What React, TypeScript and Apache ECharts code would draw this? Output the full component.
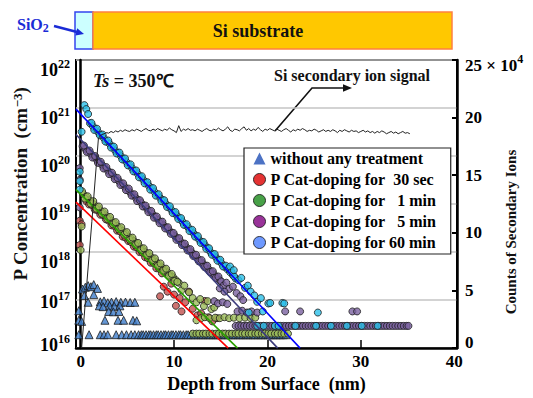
import React, { useEffect, useRef } from "react";
import * as echarts from "echarts";

const SERIF = "Liberation Serif, Times New Roman, serif";

// ---------- data (depth nm, P concentration cm^-3) ----------
const noTreatment: [number, number][] = [
  [-0.2, 6.0e16], [-0.2, 3.8e16], [-0.2, 1.9e16], [0.1, 3.6e16],
  [0.2, 1.7e17], [0.5, 1.85e17], [0.8, 2.0e17], [1.1, 1.9e17], [1.4, 2.1e17], [1.8, 1.75e17],
  [0.4, 1.25e17], [1.4, 1.3e17],
  [0.8, 9.0e16], [2.1, 9.2e16], [2.5, 9.6e16], [2.9, 8.8e16], [3.3, 9.1e16], [3.8, 9.3e16], [4.3, 9.0e16], [4.8, 9.1e16], [5.3, 8.9e16], [5.8, 9.0e16],
  [2.0, 7.6e16], [2.4, 7.3e16], [3.1, 7.6e16], [3.6, 7.4e16], [4.2, 7.6e16],
  [3.0, 5.8e16], [3.5, 5.7e16], [4.1, 5.8e16],
  [2.6, 3.8e16], [4.0, 3.8e16], [4.6, 3.8e16], [5.6, 3.8e16], [6.0, 3.7e16],
  [0.9, 1.9e16], [2.1, 1.9e16], [2.5, 1.9e16], [2.9, 1.9e16], [3.8, 1.9e16], [4.4, 1.9e16], [4.9, 1.9e16], [5.4, 1.9e16], [5.8, 1.9e16],
];
const noTreatmentFloorLevel = 1.9e16;
const noTreatmentFloorDepth = [
  6.2, 6.5, 6.7, 7.0, 7.3, 7.5, 7.8, 8.1, 8.3, 8.6, 8.9, 9.1, 9.4, 9.7, 9.9, 10.2, 10.5, 10.7, 11.0, 11.3,
  11.5, 11.8, 12.1, 12.3, 12.6, 12.9, 13.1, 13.4, 13.7, 13.9, 14.2, 14.5, 14.7, 15.0, 15.3, 15.5, 15.8, 16.1,
  16.3, 16.6, 16.9, 17.1, 17.4, 17.7, 17.9, 18.2, 18.5, 18.7, 19.0, 19.3, 19.5, 19.8, 20.1, 20.3, 20.6, 20.9,
  21.1, 21.4, 21.7, 22.0,
];

const cat30s: [number, number][] = [
  [-0.1, 4.5e18], [0.1, 3.8e18], [-0.1, 1.4e18],
  [0.6, 1.15e19], [0.9, 9.8e18], [1.2, 9.5e18], [1.5, 7.7e18], [1.8, 7.4e18], [2.1, 6.0e18], [2.4, 5.9e18],
  [2.7, 4.8e18], [3.0, 4.5e18], [3.3, 3.6e18], [3.6, 3.5e18], [3.9, 2.8e18], [4.2, 2.7e18], [4.5, 2.1e18],
  [4.8, 2.0e18], [5.1, 1.7e18], [5.4, 1.6e18], [5.7, 1.3e18], [6.0, 1.25e18], [6.3, 1.0e18], [6.6, 9.7e17],
  [6.9, 7.8e17], [7.2, 7.4e17], [7.5, 6.0e17], [7.8, 5.9e17], [8.1, 4.6e17], [8.4, 4.5e17], [8.7, 3.6e17],
  [8.5, 1.2e17], [8.9, 1.9e17], [9.3, 1.5e17], [9.7, 2.2e17], [10.0, 1.3e17], [10.2, 7.6e16], [10.6, 1.1e17],
  [10.8, 5.8e16], [11.2, 9.0e16], [11.6, 1.5e17], [12.0, 6.6e16], [12.5, 4.8e16], [12.9, 5.3e16],
  [13.3, 9.6e16], [13.7, 4.4e16], [14.1, 3.6e16], [14.6, 4.2e16],
];

const cat1min: [number, number][] = [
  [0.1, 3.4e18], [0.0, 1.1e18],
  [0.3, 1.6e19], [0.6, 1.4e19], [0.9, 1.2e19], [1.2, 1.07e19], [1.5, 9.5e18], [1.8, 8.5e18], [2.1, 7.4e18],
  [2.4, 6.6e18], [2.7, 5.8e18], [3.0, 5.1e18], [3.3, 4.5e18], [3.6, 4.0e18], [3.9, 3.5e18], [4.2, 3.1e18],
  [4.5, 2.75e18], [4.8, 2.45e18], [5.1, 2.1e18], [5.4, 1.9e18], [5.7, 1.7e18], [6.0, 1.5e18], [6.3, 1.3e18],
  [6.6, 1.15e18], [6.9, 1.0e18], [7.2, 9.0e17], [7.5, 8.0e17], [7.8, 7.0e17], [8.1, 6.2e17], [8.4, 5.5e17],
  [8.7, 4.8e17], [9.0, 4.3e17], [9.3, 3.8e17], [9.6, 3.3e17], [9.9, 3.0e17], [10.2, 2.6e17], [10.5, 2.3e17],
  [0.15, 1.85e19], [0.45, 1.3e19], [0.75, 1.45e19], [1.05, 1.02e19], [1.35, 1.15e19], [1.65, 8.0e18],
  [1.95, 8.9e18], [2.25, 6.3e18], [2.55, 7.0e18], [2.85, 4.9e18], [3.15, 5.4e18], [3.45, 3.8e18],
  [3.75, 4.2e18], [4.05, 3.0e18], [4.35, 3.3e18], [4.65, 2.3e18], [4.95, 2.6e18], [5.25, 1.8e18],
  [5.55, 2.0e18], [5.85, 1.4e18], [6.15, 1.55e18], [6.45, 1.1e18], [6.75, 1.2e18], [7.05, 8.6e17],
  [7.35, 9.5e17], [7.65, 6.7e17], [7.95, 7.4e17], [8.25, 5.2e17], [8.55, 5.8e17], [8.85, 4.1e17],
  [9.15, 4.5e17], [9.45, 3.2e17], [9.75, 3.5e17], [10.05, 2.5e17], [10.35, 2.4e17],
  [10.8, 1.6e17], [11.1, 2.0e17], [11.6, 1.45e17], [12.0, 1.1e17], [12.4, 9.0e16], [12.8, 1.05e17],
  [13.2, 7.5e16], [13.6, 9.5e16], [14.0, 6.5e16], [14.3, 7.0e16],
  [12.4, 3.8e16], [12.9, 4.2e16], [13.3, 4.4e16], [13.8, 4.2e16], [14.4, 4.3e16], [14.9, 4.2e16],
  [15.4, 4.4e16], [15.9, 4.2e16], [16.4, 4.3e16], [17.0, 4.2e16], [17.6, 4.3e16], [18.2, 4.2e16], [18.7, 4.3e16],
];
const cat1minFloorLevel = 2.0e16;
const cat1minFloorDepth = [
  12.0, 12.4, 12.7, 13.1, 13.4, 13.8, 14.1, 14.5, 14.8, 15.2, 15.5, 15.9, 16.2, 16.6, 16.9, 17.3, 17.6,
  18.0, 18.3, 18.7, 19.0, 19.4, 19.7, 20.1, 20.4, 20.8, 21.1, 21.5, 21.8, 22.2,
];

const cat5min: [number, number][] = [
  [-0.1, 5.6e19], [-0.1, 3.2e19], [-0.1, 8.5e18],
  [0.2, 1.6e20], [0.5, 1.4e20], [0.8, 1.25e20], [1.1, 1.1e20], [1.4, 9.6e19], [1.7, 8.5e19], [2.0, 7.4e19],
  [2.3, 6.5e19], [2.6, 5.7e19], [2.9, 5.0e19], [3.2, 4.4e19], [3.5, 3.9e19], [3.8, 3.4e19], [4.1, 3.0e19],
  [4.4, 2.6e19], [4.7, 2.3e19], [5.0, 2.0e19], [5.3, 1.75e19], [5.6, 1.55e19], [5.9, 1.35e19], [6.2, 1.2e19],
  [6.5, 1.05e19], [6.8, 9.1e18], [7.1, 8.0e18], [7.4, 7.0e18], [7.7, 6.2e18], [8.0, 5.4e18], [8.3, 4.7e18],
  [8.6, 4.2e18], [8.9, 3.6e18], [9.2, 3.2e18], [9.5, 2.8e18], [9.8, 2.5e18], [10.1, 2.15e18], [10.4, 1.9e18],
  [10.7, 1.65e18], [11.0, 1.45e18], [11.3, 1.27e18], [11.6, 1.12e18], [11.9, 9.8e17], [12.2, 8.5e17],
  [12.5, 7.5e17], [12.8, 6.6e17], [13.1, 5.8e17], [13.4, 5.1e17], [13.7, 4.4e17], [14.0, 3.9e17],
  [14.3, 3.4e17], [14.6, 3.0e17], [14.9, 2.6e17],
  [0.35, 1.65e20], [0.65, 1.22e20], [0.95, 1.3e20], [1.25, 9.3e19], [1.55, 1.0e20], [1.85, 7.2e19],
  [2.15, 7.6e19], [2.45, 5.5e19], [2.75, 5.9e19], [3.05, 4.2e19], [3.35, 4.5e19], [3.65, 3.3e19],
  [3.95, 3.5e19], [4.25, 2.5e19], [4.55, 2.7e19], [4.85, 1.95e19], [5.15, 2.1e19], [5.45, 1.5e19],
  [5.75, 1.6e19], [6.05, 1.15e19], [6.35, 1.2e19], [6.65, 8.9e18], [6.95, 9.3e18], [7.25, 6.8e18],
  [7.55, 7.2e18], [7.85, 5.2e18], [8.15, 5.5e18], [8.45, 4.0e18], [8.75, 4.3e18], [9.05, 3.1e18],
  [9.35, 3.3e18], [9.65, 2.4e18], [9.95, 2.5e18], [10.25, 1.8e18], [10.55, 1.95e18], [10.85, 1.4e18],
  [11.15, 1.5e18], [11.45, 1.08e18], [11.75, 1.15e18], [12.05, 8.3e17], [12.35, 8.8e17], [12.65, 6.4e17],
  [12.95, 6.8e17], [13.25, 4.9e17], [13.55, 5.2e17], [13.85, 3.8e17], [14.15, 4.0e17], [14.45, 2.9e17],
  [14.75, 3.1e17], [15.05, 2.45e17],
  [15.3, 2.0e17], [15.6, 2.3e17], [15.9, 1.7e17], [16.3, 1.9e17], [16.7, 1.4e17], [17.1, 1.2e17], [17.4, 1.0e17],
  [14.9, 1.75e17], [15.4, 1.5e17], [14.3, 9.5e16], [14.7, 8.5e16], [15.2, 9.0e16], [15.7, 8.3e16],
  [16.8, 5.8e16], [17.3, 6.0e16], [17.8, 5.5e16], [18.3, 5.8e16], [18.9, 5.5e16], [21.9, 5.8e16],
  [23.5, 5.8e16], [29.1, 5.8e16], [29.6, 5.8e16],
];
const cat5minFloorLevel = 2.9e16;
const cat5minFloorDepth = [
  16.6, 16.9, 17.2, 17.5, 17.8, 18.1, 18.4, 18.7, 19.0, 19.3, 19.6, 19.9, 20.2, 20.5, 20.8, 21.1, 21.4, 21.7,
  22.0, 22.3, 22.6, 22.9, 23.2, 23.5, 23.8, 24.1, 24.4, 24.7, 25.0, 25.3, 25.6, 25.9, 26.2, 26.5, 26.8, 27.1,
  27.4, 27.7, 28.0, 28.3, 28.6, 28.9, 29.2, 29.5, 29.8, 30.1, 30.4, 30.7, 31.0, 31.3, 31.6, 31.9, 32.2, 32.5,
  32.8, 33.1, 33.4, 33.7, 34.0, 34.3, 34.6, 34.9, 35.1,
];

const cat60min: [number, number][] = [
  [0.4, 1.15e21], [0.6, 9.5e20], [0.8, 7.5e20], [0.1, 3.2e20], [-0.1, 4.7e19], [-0.1, 3.0e19], [-0.1, 2.0e19],
  [1.0, 4.8e20], [1.3, 4.2e20], [1.6, 3.6e20], [1.9, 3.1e20], [2.2, 2.7e20], [2.5, 2.35e20], [2.8, 2.0e20],
  [3.1, 1.8e20], [3.4, 1.55e20], [3.7, 1.3e20], [4.0, 1.15e20], [4.3, 1.0e20], [4.6, 8.7e19], [4.9, 7.5e19],
  [5.2, 6.5e19], [5.5, 5.6e19], [5.8, 4.9e19], [6.1, 4.3e19], [6.4, 3.7e19], [6.7, 3.2e19], [7.0, 2.8e19],
  [7.3, 2.4e19], [7.6, 2.1e19], [7.9, 1.8e19], [8.2, 1.55e19], [8.5, 1.35e19], [8.8, 1.2e19], [9.1, 1.02e19],
  [9.4, 8.9e18], [9.7, 7.6e18], [10.0, 6.6e18], [10.3, 5.8e18], [10.6, 5.0e18], [10.9, 4.3e18], [11.2, 3.7e18],
  [11.5, 3.3e18], [11.8, 2.8e18], [12.1, 2.45e18], [12.4, 2.1e18], [12.7, 1.8e18], [13.0, 1.6e18],
  [13.3, 1.4e18], [13.6, 1.2e18], [13.9, 1.0e18], [14.2, 9.0e17], [14.5, 7.7e17], [14.8, 6.7e17],
  [15.1, 5.8e17], [15.4, 5.0e17], [15.7, 4.4e17], [16.0, 3.8e17], [16.3, 3.3e17], [16.6, 2.8e17],
  [1.15, 4.9e20], [1.45, 3.5e20], [1.75, 3.7e20], [2.05, 2.7e20], [2.35, 2.8e20], [2.65, 2.0e20],
  [2.95, 2.1e20], [3.25, 1.5e20], [3.55, 1.57e20], [3.85, 1.13e20], [4.15, 1.18e20], [4.45, 8.5e19],
  [4.75, 8.9e19], [5.05, 6.4e19], [5.35, 6.7e19], [5.65, 4.8e19], [5.95, 5.0e19], [6.25, 3.6e19],
  [6.55, 3.8e19], [6.85, 2.7e19], [7.15, 2.85e19], [7.45, 2.0e19], [7.75, 2.15e19], [8.05, 1.5e19],
  [8.35, 1.6e19], [8.65, 1.15e19], [8.95, 1.2e19], [9.25, 8.7e18], [9.55, 9.0e18], [9.85, 6.5e18],
  [10.15, 6.8e18], [10.45, 4.9e18], [10.75, 5.1e18], [11.05, 3.7e18], [11.35, 3.8e18], [11.65, 2.75e18],
  [11.95, 2.9e18], [12.25, 2.1e18], [12.55, 2.15e18], [12.85, 1.55e18], [13.15, 1.62e18], [13.45, 1.17e18],
  [13.75, 1.2e18], [14.05, 8.8e17], [14.35, 9.1e17], [14.65, 6.6e17], [14.95, 6.9e17], [15.25, 5.0e17],
  [15.55, 5.2e17], [15.85, 4.5e17], [16.15, 3.9e17], [16.45, 3.1e17],
  [16.0, 5.0e17], [16.4, 4.2e17], [16.9, 2.6e17], [17.2, 2.9e17], [17.6, 1.8e17], [17.9, 2.0e17],
  [18.2, 1.5e17], [18.6, 1.25e17], [18.9, 9.2e16], [19.3, 1.1e17], [20.1, 8.5e16], [20.3, 8.7e16],
  [21.6, 8.7e16], [21.8, 8.5e16], [25.4, 5.5e16], [18.0, 5.5e16], [19.5, 5.8e16],
];
const cat60minFloorLevel = 2.9e16;
const cat60minFloorDepth = [18.9, 19.6, 20.8, 21.2, 23.0, 25.2, 26.8, 28.5, 30.1, 31.8];

// fitted lines (two end points each)
const fit30s: [number, number][] = [[-0.5, 1.1e19], [15.8, 1e16]];
const fit1min: [number, number][] = [[-0.5, 2.0e19], [16.8, 1e16]];
const fit5min: [number, number][] = [[-0.5, 2.8e20], [21.1, 1e16]];
const fit60min: [number, number][] = [[-0.5, 9.5e20], [23.5, 1e16]];

// Si secondary ion signal (x 10^4 counts)
const signalRamp: [number, number][] = [[0.1, 0], [1.2, 11.0], [1.9, 18.2], [2.2, 18.5]];
const SIGNAL_START = 2.5;
const SIGNAL_STEP = 0.25;
const signalPlateau = [
  18.6, 18.7, 18.65, 18.8, 18.7, 18.85, 18.75, 18.9, 18.8, 18.95, 18.85, 18.8,
  18.95, 18.85, 19.0, 18.9, 18.8, 18.95, 19.05, 18.9, 18.85, 19.0, 18.9, 19.05,
  18.95, 18.85, 19.0, 18.9, 19.1, 18.95, 18.85, 18.7, 19.3, 18.8, 19.0, 18.9,
  19.05, 18.9, 18.95, 18.85, 19.0, 18.9, 18.8, 18.95, 19.05, 18.9, 18.85, 19.0,
  18.9, 19.1, 18.95, 18.85, 19.0, 19.2, 18.9, 18.8, 19.0, 18.95, 18.85, 19.05,
  19.2, 18.9, 19.05, 18.85, 19.0, 18.9, 19.15, 18.95, 18.8, 19.0, 18.9, 19.05,
  18.95, 18.85, 19.0, 18.9, 18.8, 18.95, 19.05, 18.9, 18.75, 18.95, 18.85, 19.0,
  18.9, 19.05, 18.95, 18.8, 18.9, 18.85, 19.0, 18.9, 18.75, 18.85, 18.95, 18.8,
  18.9, 18.8, 18.95, 18.85, 18.7, 18.9, 18.8, 18.95, 18.85, 18.75, 18.9, 18.8,
  18.85, 18.7, 18.8, 18.9, 18.75, 18.85, 18.7, 18.8, 18.65, 18.8, 18.7, 18.85,
  18.75, 18.6, 18.7, 18.8, 18.65, 18.75, 18.6, 18.7, 18.8, 18.65, 18.7, 18.6,
];

const xTickLabels = [0, 10, 20, 30, 40];
const xInnerTicks = [10, 20, 30];

const NAMES = {
  none: "without any treatment",
  s30: "P Cat-doping for\u00a0 30 sec",
  m1: "P Cat-doping for\u00a0\u00a0\u00a01 min",
  m5: "P Cat-doping for\u00a0\u00a0\u00a05 min",
  m60: "P Cat-doping for 60 min",
};

const floor = (depths: number[], level: number) => depths.map((d) => [d, level]);

function buildOption(): any {
  const bold = { fontFamily: SERIF, fontWeight: "bold" as const, color: "#000" };
  const scatter = (name: string, data: any[], color: string, symbol = "circle") => ({
    type: "scatter",
    name,
    data,
    symbol,
    symbolSize: symbol === "triangle" ? 8 : 7,
    itemStyle: { color, borderColor: "#1a1a1a", borderWidth: 1 },
    z: 2,
  });
  const fit = (data: any[], color: string) => ({
    type: "line",
    data,
    symbol: "none",
    lineStyle: { color, width: 1.6 },
    z: 4,
    silent: true,
  });
  const labRich: any = {
    hi: { ...bold, fontSize: 18, padding: [20, 0, 0, 0] },
    his: { ...bold, fontSize: 12, verticalAlign: "top", padding: [17, 0, 0, 0] },
    mid: { ...bold, fontSize: 18, padding: [4, 0, 0, 0] },
    mids: { ...bold, fontSize: 12, verticalAlign: "top", padding: [1, 0, 0, 0] },
    lo: { ...bold, fontSize: 18, padding: [3, 0, 9, 0] },
    los: { ...bold, fontSize: 12, verticalAlign: "top", padding: [0, 0, 0, 0] },
  };
  return {
    animation: false,
    backgroundColor: "#fff",
    textStyle: { fontFamily: SERIF },
    grid: { left: 76, top: 60, right: 76, bottom: 37, show: true, borderColor: "#000", borderWidth: 2 },
    legend: {
      left: 244,
      top: 148,
      orient: "vertical",
      selectedMode: false,
      backgroundColor: "#fff",
      borderColor: "#222",
      borderWidth: 1.2,
      borderRadius: 0,
      padding: [2, 14, 3, 9],
      itemGap: 4,
      itemWidth: 12,
      itemHeight: 12,
      textStyle: { ...bold, fontSize: 16, lineHeight: 17 },
      data: [
        { name: NAMES.none, icon: "triangle", itemStyle: { color: "#1f4fb5", borderColor: "#1f4fb5", borderWidth: 0 } },
        { name: NAMES.s30, icon: "circle", itemStyle: { color: "#dd0000", borderColor: "#111", borderWidth: 1 } },
        { name: NAMES.m1, icon: "circle", itemStyle: { color: "#1a8a1a", borderColor: "#111", borderWidth: 1 } },
        { name: NAMES.m5, icon: "circle", itemStyle: { color: "#800080", borderColor: "#111", borderWidth: 1 } },
        { name: NAMES.m60, icon: "circle", itemStyle: { color: "#4a80ff", borderColor: "#111", borderWidth: 1 } },
      ],
    },
    xAxis: {
      type: "value",
      min: -0.5,
      max: 40.3,
      name: "Depth from Surface  (nm)",
      nameLocation: "middle",
      nameGap: 22,
      nameTextStyle: { ...bold, fontSize: 18 },
      axisLine: { show: true, onZero: false, lineStyle: { color: "#000", width: 2.5 } },
      axisTick: { show: true, inside: true, length: 8, customValues: xInnerTicks, lineStyle: { color: "#000", width: 1.5 } },
      axisLabel: { ...bold, fontSize: 17, margin: 5, customValues: xTickLabels },
      splitLine: { show: false },
    },
    yAxis: [
      {
        type: "log",
        logBase: 10,
        min: 1e16,
        max: 1e22,
        splitNumber: 6,
        axisLine: { show: true, lineStyle: { color: "#000", width: 2.5 } },
        axisTick: { show: false },
        minorTick: { show: false },
        splitLine: { show: true, lineStyle: { color: "#c4c4c4", width: 1.5 } },
        axisLabel: {
          margin: 6,
          formatter: (v: number) => {
            const e = Math.round(Math.log10(v));
            const s = e >= 18 ? "hi" : e === 17 ? "mid" : "lo";
            return `{${s}|10}{${s}s|${e}}`;
          },
          rich: labRich,
        },
      },
      {
        type: "value",
        min: 0,
        max: 25,
        interval: 5,
        position: "right",
        axisLine: { show: true, lineStyle: { color: "#000", width: 2.5 } },
        axisTick: { show: true, inside: true, length: 5, lineStyle: { color: "#000", width: 2 } },
        splitLine: { show: false },
        axisLabel: {
          margin: 8,
          formatter: (v: number) => (v === 25 ? "{t|25 × 10}{ts|4}" : v === 0 ? "{z|0}" : `{n|${v}}`),
          rich: {
            n: { ...bold, fontSize: 17 },
            z: { ...bold, fontSize: 17, padding: [0, 0, 12, 0] },
            t: { ...bold, fontSize: 17, padding: [10, 0, 0, 0] },
            ts: { ...bold, fontSize: 12, verticalAlign: "top", padding: [6, 0, 0, 0] },
          },
        },
      },
    ],
    series: [
      scatter(NAMES.none, [...noTreatment, ...floor(noTreatmentFloorDepth, noTreatmentFloorLevel)], "#3d7cc9", "triangle"),
      scatter(NAMES.s30, cat30s, "#c0504d"),
      scatter(NAMES.m1, [...cat1min, ...floor(cat1minFloorDepth, cat1minFloorLevel)], "#9bbb59"),
      scatter(NAMES.m5, [...cat5min, ...floor(cat5minFloorDepth, cat5minFloorLevel)], "#7a62a0"),
      scatter(NAMES.m60, [...cat60min, ...floor(cat60minFloorDepth, cat60minFloorLevel)], "#2cc0ea"),
      fit(fit30s, "#ff0000"),
      fit(fit1min, "#2aa000"),
      fit(fit5min, "#3c3c7c"),
      fit(fit60min, "#0000ff"),
      {
        type: "line",
        yAxisIndex: 1,
        data: [...signalRamp, ...signalPlateau.map((v, i) => [SIGNAL_START + i * SIGNAL_STEP, v])],
        symbol: "none",
        lineStyle: { color: "#222", width: 1 },
        z: 5,
        silent: true,
      },
    ],
    graphic: [
      { type: "rect", shape: { x: 75, y: 12, width: 18, height: 37 }, style: { fill: "#ccffff", stroke: "#3344ee", lineWidth: 1.5 } },
      { type: "rect", shape: { x: 93, y: 12, width: 359, height: 37 }, style: { fill: "#ffc800", stroke: "#ff8040", lineWidth: 1.5 } },
      {
        type: "text", x: 258, y: 31,
        style: { text: "Si substrate", font: `bold 18px ${SERIF}`, fill: "#111", align: "center", verticalAlign: "middle", textAlign: "center", textVerticalAlign: "middle" },
      },
      {
        type: "text", x: 17, y: 24,
        style: {
          text: "{a|SiO}{b|2}",
          verticalAlign: "middle", textVerticalAlign: "middle",
          rich: {
            a: { fill: "#1a2bd6", fontFamily: SERIF, fontWeight: "bold", fontSize: 16 },
            b: { fill: "#1a2bd6", fontFamily: SERIF, fontWeight: "bold", fontSize: 12, verticalAlign: "bottom", padding: [8, 0, 0, 0] },
          },
        },
      },
      { type: "line", shape: { x1: 54, y1: 26, x2: 77, y2: 32 }, style: { stroke: "#1a2bd6", lineWidth: 2.5 } },
      { type: "polygon", shape: { points: [[84, 34], [75.4, 35.6], [77.2, 28.3]] }, style: { fill: "#1a2bd6" } },
      {
        type: "text", x: 93, y: 81,
        style: {
          text: "{i|Ts}{n| = 350℃}",
          verticalAlign: "middle", textVerticalAlign: "middle",
          rich: {
            i: { fill: "#111", fontFamily: SERIF, fontWeight: "bold", fontStyle: "italic", fontSize: 18 },
            n: { fill: "#111", fontFamily: SERIF, fontWeight: "bold", fontSize: 18 },
          },
        },
      },
      {
        type: "text", x: 352, y: 75,
        style: { text: "Si secondary ion signal", font: `bold 16px ${SERIF}`, fill: "#111", align: "center", verticalAlign: "middle", textAlign: "center", textVerticalAlign: "middle" },
      },
      { type: "polyline", shape: { points: [[275, 131], [312, 88], [344, 88]] }, style: { stroke: "#111", lineWidth: 1.6, fill: "none" } },
      { type: "polygon", shape: { points: [[352, 88], [343, 84.3], [343, 91.7]] }, style: { fill: "#111" } },
      {
        type: "text", x: 20, y: 184, rotation: Math.PI / 2,
        style: {
          text: "{a|P Concentration  (cm}{b|−3}{a|)}",
          align: "center", verticalAlign: "middle", textAlign: "center", textVerticalAlign: "middle",
          rich: {
            a: { fill: "#111", fontFamily: SERIF, fontWeight: "bold", fontSize: 19 },
            b: { fill: "#111", fontFamily: SERIF, fontWeight: "bold", fontSize: 13, verticalAlign: "top" },
          },
        },
      },
      {
        type: "text", x: 511, y: 232, rotation: Math.PI / 2,
        style: { text: "Counts of Secondary Ions", font: `bold 15px ${SERIF}`, fill: "#111", align: "center", verticalAlign: "middle", textAlign: "center", textVerticalAlign: "middle" },
      },
    ],
  };
}

export default function App() {
  const ref = useRef<HTMLDivElement>(null);
  useEffect(() => {
    if (!ref.current) return;
    const chart = echarts.init(ref.current, null, { renderer: "svg" });
    chart.setOption(buildOption());
    return () => chart.dispose();
  }, []);
  return <div ref={ref} style={{ position: "fixed", left: 0, top: 0, width: 533, height: 398 }} />;
}
